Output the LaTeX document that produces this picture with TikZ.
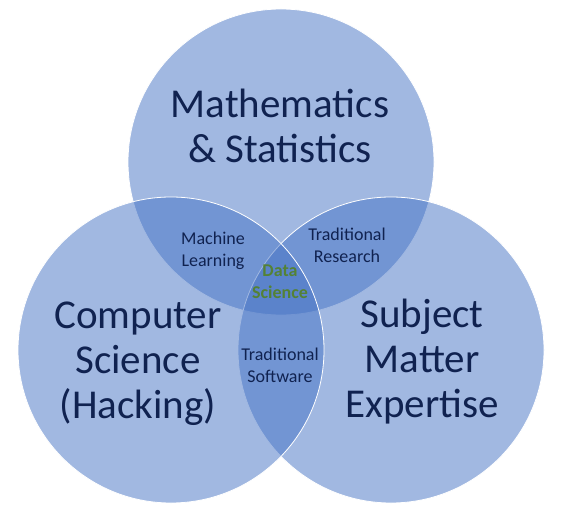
\documentclass[tikz,border=0pt]{standalone}
\usepackage{fontspec}
\setmainfont{Carlito}
\definecolor{vennblue}{RGB}{68,114,196}
\definecolor{labeltext}{RGB}{16,34,80}
\definecolor{coregreen}{RGB}{84,130,53}
\tikzset{
  venn/.style={fill=vennblue, fill opacity=0.5, draw=white, line width=0.8pt},
  biglabel/.style={align=center, text=labeltext, inner sep=0pt, font=\fontsize{41}{45}\selectfont},
  smalllabel/.style={align=center, text=labeltext, inner sep=0pt, font=\fontsize{18}{22}\selectfont},
}
\begin{document}
\begin{tikzpicture}[x=1pt,y=-1pt]
  \useasboundingbox (0,0) rectangle (561,510);
  \coordinate (math) at (281,162);
  \coordinate (subj) at (391,350);
  \coordinate (comp) at (171,350);
  % the three sets
  \draw[venn] (math) circle[radius=153pt];
  \draw[venn] (subj) circle[radius=153pt];
  \draw[venn] (comp) circle[radius=153pt];
  % labels
  \node[biglabel] (mathlabel) at (280,126) {Mathematics\\\& Statistics};
  \node[biglabel] (complabel) at (138,364) {Computer\\Science\\(Hacking)};
  \node[biglabel] (subjlabel) at (422,362) {Subject\\Matter\\Expertise};
  \node[smalllabel] (mllabel) at (213,251) {Machine\\Learning};
  \node[smalllabel] (reslabel) at (347,245) {Traditional\\Research};
  \node[smalllabel] (swlabel) at (280,365) {Traditional\\Software};
  \node[smalllabel, text=coregreen, font=\fontsize{18}{22}\selectfont\bfseries] (dslabel) at (280,282) {Data\\Science};
\end{tikzpicture}
\end{document}
